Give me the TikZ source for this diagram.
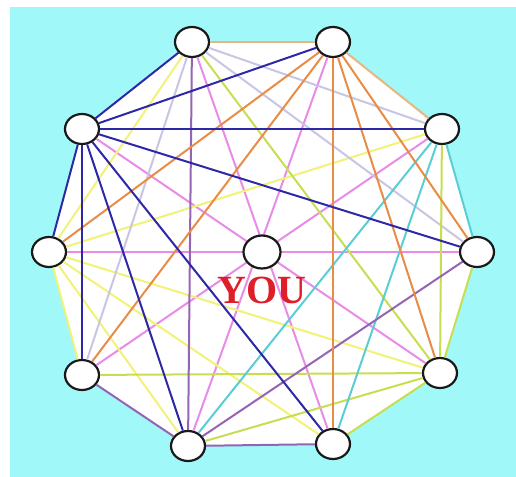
\documentclass[tikz,border=0pt]{standalone}
\usepackage{fontspec}
\newfontfamily\youfont{Liberation Serif}
\usepackage{tikz}
\usetikzlibrary{shapes.geometric, backgrounds}
\definecolor{mycyan}{RGB}{160,248,248}
\definecolor{mydark}{RGB}{25,25,25}
\definecolor{myblue}{RGB}{45,40,165}
\definecolor{mytan}{RGB}{232,182,128}
\definecolor{myorange}{RGB}{232,140,70}
\definecolor{mylavender}{RGB}{200,198,228}
\definecolor{mypink}{RGB}{232,140,232}
\definecolor{myyellow}{RGB}{242,242,120}
\definecolor{mylime}{RGB}{200,222,80}
\definecolor{myteal}{RGB}{90,205,215}
\definecolor{mypurple}{RGB}{150,100,180}
\definecolor{myred}{RGB}{222,30,40}
\tikzset{
  person/.style={ellipse, draw=mydark, fill=white, minimum width=17pt,
    minimum height=15pt, inner sep=0pt, line width=1.1pt},
  youperson/.style={person, minimum width=18.5pt, minimum height=16.5pt},
  link/.style={line width=1pt},
  bluelink/.style={link, color=myblue},
  tanlink/.style={link, color=mytan},
  orangelink/.style={link, color=myorange},
  lavlink/.style={link, color=mylavender},
  pinklink/.style={link, color=mypink},
  yellowlink/.style={link, color=myyellow},
  limelink/.style={link, color=mylime},
  teallink/.style={link, color=myteal},
  purplink/.style={link, color=mypurple}
}

\begin{document}
\begin{tikzpicture}[x=0.5pt, y=-0.5pt]
  \useasboundingbox (0,0) rectangle (516,477);

  % ring of ten
  \node[person] (n1) at (192,42) {};
  \node[person] (n2) at (333,42) {};
  \node[person] (n3) at (442,129) {};
  \node[person] (n4) at (477,252) {};
  \node[person] (n5) at (440,373) {};
  \node[person] (n6) at (333,444) {};
  \node[person] (n7) at (188,446) {};
  \node[person] (n8) at (82,375) {};
  \node[person] (n9) at (49,252) {};
  \node[person] (n10) at (82,129) {};

  \begin{scope}[on background layer]
    \fill[mycyan] (10,7) rectangle (516,477);
    \fill[white] (n1.center) -- (n2.center) -- (n3.center) -- (n4.center) -- (n5.center)
      -- (n6.center) -- (n7.center) -- (n8.center) -- (n9.center) -- (n10.center) -- cycle;
  \end{scope}

  % diameters
  \draw[pinklink] (n1) -- (n6);
  \draw[pinklink] (n2) -- (n7);
  \draw[pinklink] (n3) -- (n8);
  \draw[pinklink] (n4) -- (n9);
  \draw[pinklink] (n5) -- (n10);

  % chords
  \draw[yellowlink] (n3) -- (n9);
  \draw[yellowlink] (n9) -- (n5);
  \draw[yellowlink] (n9) -- (n6);
  \draw[yellowlink] (n9) -- (n7);
  \draw[yellowlink] (n1) -- (n9);
  \draw[lavlink] (n1) -- (n3);
  \draw[lavlink] (n1) -- (n4);
  \draw[lavlink] (n1) -- (n8);
  \draw[limelink] (n1) -- (n5);
  \draw[limelink] (n3) -- (n5);
  \draw[limelink] (n8) -- (n5);
  \draw[limelink] (n7) -- (n5);
  \draw[teallink] (n3) -- (n7);
  \draw[teallink] (n3) -- (n6);
  \draw[purplink] (n1) -- (n7);
  \draw[purplink] (n4) -- (n7);
  \draw[orangelink] (n2) -- (n9);
  \draw[orangelink] (n2) -- (n8);
  \draw[orangelink] (n2) -- (n6);
  \draw[orangelink] (n2) -- (n5);
  \draw[orangelink] (n2) -- (n4);
  \draw[bluelink] (n10) -- (n2);
  \draw[bluelink] (n10) -- (n3);
  \draw[bluelink] (n10) -- (n4);
  \draw[bluelink] (n10) -- (n6);
  \draw[bluelink] (n10) -- (n7);
  \draw[bluelink] (n10) -- (n8);

  % outline
  \draw[tanlink] (n1) -- (n2);
  \draw[tanlink] (n2) -- (n3);
  \draw[teallink] (n3) -- (n4);
  \draw[limelink] (n4) -- (n5);
  \draw[limelink] (n5) -- (n6);
  \draw[purplink] (n6) -- (n7);
  \draw[purplink] (n7) -- (n8);
  \draw[yellowlink] (n8) -- (n9);
  \draw[bluelink] (n9) -- (n10);
  \draw[bluelink] (n10) -- (n1);

  \node[youperson] (you) at (262,252) {};
  \node[text=myred, font=\youfont\bfseries\fontsize{20}{20}\selectfont, inner sep=0pt] (youlabel) at (262,290) {YOU};
\end{tikzpicture}
\end{document}
